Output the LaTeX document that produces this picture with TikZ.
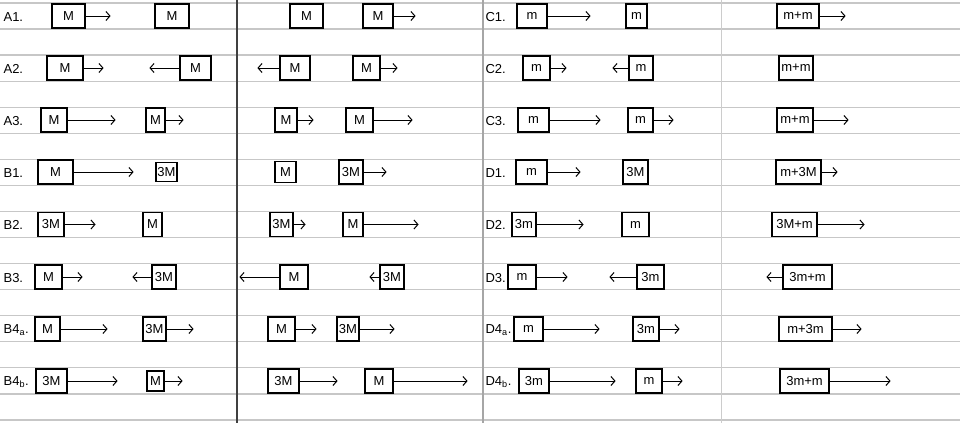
\documentclass[tikz,border=0pt]{standalone}
\usepackage{fontspec}
\setmainfont{Liberation Sans}
\usepackage{tikz}
\usetikzlibrary{arrows.meta, positioning}

\begin{document}
\begin{tikzpicture}[x=1pt, y=-1pt, line width=1.2pt,
    blk/.style={draw, minimum height=24, inner sep=1pt, font=\fontsize{13}{15}\selectfont},
    mv/.style={-{Straight Barb[length=4pt, width=9pt]}, line width=1pt},
    lbl/.style={anchor=west, inner sep=0pt, font=\fontsize{13}{15}\selectfont},
    rule/.style={draw=black!22, line width=1.3pt}]
    \useasboundingbox[fill=white] (0,0) rectangle (960,423);
    \foreach \k in {0,...,16}
        \draw[rule] (0,3+26.06*\k) -- (960,3+26.06*\k);
    \draw[black!75, line width=1.4pt] (237,0) -- (237,423);
    \draw[black!35, line width=1.2pt] (483,0) -- (483,423);
    \draw[black!20, line width=1pt] (721,0) -- (721,423);

    % left page
    \node[lbl] at (3,17)  (la1) {A1.};
    \node[lbl] at (3,69)  (la2) {A2.};
    \node[lbl] at (3,121) (la3) {A3.};
    \node[lbl] at (3,173) (lb1) {B1.};
    \node[lbl] at (3,225) (lb2) {B2.};
    \node[lbl] at (3,278) (lb3) {B3.};
    \node[lbl] at (3,330) (lb4a) {B4\textsubscript{a}.};
    \node[lbl] at (3,382) (lb4b) {B4\textsubscript{b}.};

    \node[blk, minimum width=33] at (68.5,16)  (a1m1) {M};
    \node[blk, minimum width=34] at (172,16)   (a1m2) {M};
    \node[blk, minimum width=33] at (306.5,16) (a1m3) {M};
    \node[blk, minimum width=30] at (378,16)   (a1m4) {M};
    \coordinate[right=25pt of a1m1.east] (a1v1);
    \coordinate[right=22pt of a1m4.east] (a1v4);
    \draw[mv] (a1m1) -- (a1v1);
    \draw[mv] (a1m4) -- (a1v4);

    \node[blk, minimum width=36] at (65,68)    (a2m1) {M};
    \node[blk, minimum width=31] at (195.5,68) (a2m2) {M};
    \node[blk, minimum width=30] at (295,68)   (a2m3) {M};
    \node[blk, minimum width=27] at (366.5,68) (a2m4) {M};
    \coordinate[right=20pt of a2m1.east] (a2v1);
    \coordinate[left=30pt of a2m2.west]  (a2v2);
    \coordinate[left=22pt of a2m3.west]  (a2v3);
    \coordinate[right=17pt of a2m4.east] (a2v4);
    \draw[mv] (a2m1) -- (a2v1);
    \draw[mv] (a2m2) -- (a2v2);
    \draw[mv] (a2m3) -- (a2v3);
    \draw[mv] (a2m4) -- (a2v4);

    \node[blk, minimum width=26] at (54,120)    (a3m1) {M};
    \node[blk, minimum width=19] at (155.5,120) (a3m2) {M};
    \node[blk, minimum width=22] at (286,120)   (a3m3) {M};
    \node[blk, minimum width=27] at (359.5,120) (a3m4) {M};
    \coordinate[right=48pt of a3m1.east] (a3v1);
    \coordinate[right=18pt of a3m2.east] (a3v2);
    \coordinate[right=16pt of a3m3.east] (a3v3);
    \coordinate[right=39pt of a3m4.east] (a3v4);
    \draw[mv] (a3m1) -- (a3v1);
    \draw[mv] (a3m2) -- (a3v2);
    \draw[mv] (a3m3) -- (a3v3);
    \draw[mv] (a3m4) -- (a3v4);

    \node[blk, minimum width=35] at (55.5,172)  (b1m1) {M};
    \node[blk, minimum width=21, minimum height=19] at (166.5,172) (b1m2) {3M};
    \node[blk, minimum width=21, minimum height=21] at (285.5,172) (b1m3) {M};
    \node[blk, minimum width=24] at (351,172)   (b1m4) {3M};
    \coordinate[right=60pt of b1m1.east] (b1v1);
    \coordinate[right=23pt of b1m4.east] (b1v4);
    \draw[mv] (b1m1) -- (b1v1);
    \draw[mv] (b1m4) -- (b1v4);

    \node[blk, minimum width=26] at (51,224.5)    (b2m1) {3M};
    \node[blk, minimum width=19] at (152.5,224.5) (b2m2) {M};
    \node[blk, minimum width=23] at (281.5,224.5) (b2m3) {3M};
    \node[blk, minimum width=20] at (353,224.5)   (b2m4) {M};
    \coordinate[right=31pt of b2m1.east] (b2v1);
    \coordinate[right=12pt of b2m3.east] (b2v3);
    \coordinate[right=55pt of b2m4.east] (b2v4);
    \draw[mv] (b2m1) -- (b2v1);
    \draw[mv] (b2m3) -- (b2v3);
    \draw[mv] (b2m4) -- (b2v4);

    \node[blk, minimum width=27] at (48.5,277) (b3m1) {M};
    \node[blk, minimum width=24] at (164,277)  (b3m2) {3M};
    \node[blk, minimum width=28] at (294,277)  (b3m3) {M};
    \node[blk, minimum width=24] at (392,277)  (b3m4) {3M};
    \coordinate[right=20pt of b3m1.east] (b3v1);
    \coordinate[left=19pt of b3m2.west]  (b3v2);
    \coordinate[left=40pt of b3m3.west]  (b3v3);
    \coordinate[left=10pt of b3m4.west]  (b3v4);
    \draw[mv] (b3m1) -- (b3v1);
    \draw[mv] (b3m2) -- (b3v2);
    \draw[mv] (b3m3) -- (b3v3);
    \draw[mv] (b3m4) -- (b3v4);

    \node[blk, minimum width=25] at (47.5,329)  (b4am1) {M};
    \node[blk, minimum width=23] at (154.5,329) (b4am2) {3M};
    \node[blk, minimum width=27] at (281.5,329) (b4am3) {M};
    \node[blk, minimum width=22] at (348,329)   (b4am4) {3M};
    \coordinate[right=47pt of b4am1.east] (b4av1);
    \coordinate[right=27pt of b4am2.east] (b4av2);
    \coordinate[right=21pt of b4am3.east] (b4av3);
    \coordinate[right=35pt of b4am4.east] (b4av4);
    \draw[mv] (b4am1) -- (b4av1);
    \draw[mv] (b4am2) -- (b4av2);
    \draw[mv] (b4am3) -- (b4av3);
    \draw[mv] (b4am4) -- (b4av4);

    \node[blk, minimum width=31] at (51.5,381)  (b4bm1) {3M};
    \node[blk, minimum width=17, minimum height=20] at (155.5,381) (b4bm2) {M};
    \node[blk, minimum width=31] at (283.5,381) (b4bm3) {3M};
    \node[blk, minimum width=28] at (379,381)   (b4bm4) {M};
    \coordinate[right=50pt of b4bm1.east] (b4bv1);
    \coordinate[right=18pt of b4bm2.east] (b4bv2);
    \coordinate[right=38pt of b4bm3.east] (b4bv3);
    \coordinate[right=74pt of b4bm4.east] (b4bv4);
    \draw[mv] (b4bm1) -- (b4bv1);
    \draw[mv] (b4bm2) -- (b4bv2);
    \draw[mv] (b4bm3) -- (b4bv3);
    \draw[mv] (b4bm4) -- (b4bv4);

    % right page
    \node[lbl] at (485,17)  (lc1) {C1.};
    \node[lbl] at (485,69)  (lc2) {C2.};
    \node[lbl] at (485,121) (lc3) {C3.};
    \node[lbl] at (485,173) (ld1) {D1.};
    \node[lbl] at (485,225) (ld2) {D2.};
    \node[lbl] at (485,278) (ld3) {D3.};
    \node[lbl] at (485,330) (ld4a) {D4\textsubscript{a}.};
    \node[lbl] at (485,382) (ld4b) {D4\textsubscript{b}.};

    \node[blk, minimum width=30] at (532,16)   (c1m1) {m};
    \node[blk, minimum width=21] at (636.5,16) (c1m2) {m};
    \node[blk, minimum width=42] at (798,16)   (c1m3) {m+m};
    \coordinate[right=43pt of c1m1.east] (c1v1);
    \coordinate[right=26pt of c1m3.east] (c1v3);
    \draw[mv] (c1m1) -- (c1v1);
    \draw[mv] (c1m3) -- (c1v3);

    \node[blk, minimum width=27] at (536.5,68) (c2m1) {m};
    \node[blk, minimum width=24] at (641,68)   (c2m2) {m};
    \node[blk, minimum width=34] at (796,68)   (c2m3) {m+m};
    \coordinate[right=16pt of c2m1.east] (c2v1);
    \coordinate[left=16pt of c2m2.west]  (c2v2);
    \draw[mv] (c2m1) -- (c2v1);
    \draw[mv] (c2m2) -- (c2v2);

    \node[blk, minimum width=31] at (533.5,120) (c3m1) {m};
    \node[blk, minimum width=25] at (640.5,120) (c3m2) {m};
    \node[blk, minimum width=36] at (795,120)   (c3m3) {m+m};
    \coordinate[right=51pt of c3m1.east] (c3v1);
    \coordinate[right=20pt of c3m2.east] (c3v2);
    \coordinate[right=35pt of c3m3.east] (c3v3);
    \draw[mv] (c3m1) -- (c3v1);
    \draw[mv] (c3m2) -- (c3v2);
    \draw[mv] (c3m3) -- (c3v3);

    \node[blk, minimum width=31] at (531.5,172) (d1m1) {m};
    \node[blk, minimum width=25] at (635.5,172) (d1m2) {3M};
    \node[blk, minimum width=45] at (798.5,172) (d1m3) {m+3M};
    \coordinate[right=33pt of d1m1.east] (d1v1);
    \coordinate[right=16pt of d1m3.east] (d1v3);
    \draw[mv] (d1m1) -- (d1v1);
    \draw[mv] (d1m3) -- (d1v3);

    \node[blk, minimum width=24] at (524,224.5)   (d2m1) {3m};
    \node[blk, minimum width=27] at (635.5,224.5) (d2m2) {m};
    \node[blk, minimum width=45] at (794.5,224.5) (d2m3) {3M+m};
    \coordinate[right=47pt of d2m1.east] (d2v1);
    \coordinate[right=47pt of d2m3.east] (d2v3);
    \draw[mv] (d2m1) -- (d2v1);
    \draw[mv] (d2m3) -- (d2v3);

    \node[blk, minimum width=28] at (522,277)   (d3m1) {m};
    \node[blk, minimum width=27] at (650.5,277) (d3m2) {3m};
    \node[blk, minimum width=49] at (807.5,277) (d3m3) {3m+m};
    \coordinate[right=31pt of d3m1.east] (d3v1);
    \coordinate[left=27pt of d3m2.west]  (d3v2);
    \coordinate[left=16pt of d3m3.west]  (d3v3);
    \draw[mv] (d3m1) -- (d3v1);
    \draw[mv] (d3m2) -- (d3v2);
    \draw[mv] (d3m3) -- (d3v3);

    \node[blk, minimum width=29] at (528.5,329) (d4am1) {m};
    \node[blk, minimum width=26] at (646,329)   (d4am2) {3m};
    \node[blk, minimum width=53] at (805.5,329) (d4am3) {m+3m};
    \coordinate[right=56pt of d4am1.east] (d4av1);
    \coordinate[right=20pt of d4am2.east] (d4av2);
    \coordinate[right=29pt of d4am3.east] (d4av3);
    \draw[mv] (d4am1) -- (d4av1);
    \draw[mv] (d4am2) -- (d4av2);
    \draw[mv] (d4am3) -- (d4av3);

    \node[blk, minimum width=30] at (534,381)   (d4bm1) {3m};
    \node[blk, minimum width=26] at (649,381)   (d4bm2) {m};
    \node[blk, minimum width=49] at (804.5,381) (d4bm3) {3m+m};
    \coordinate[right=66pt of d4bm1.east] (d4bv1);
    \coordinate[right=20pt of d4bm2.east] (d4bv2);
    \coordinate[right=61pt of d4bm3.east] (d4bv3);
    \draw[mv] (d4bm1) -- (d4bv1);
    \draw[mv] (d4bm2) -- (d4bv2);
    \draw[mv] (d4bm3) -- (d4bv3);
\end{tikzpicture}
\end{document}
